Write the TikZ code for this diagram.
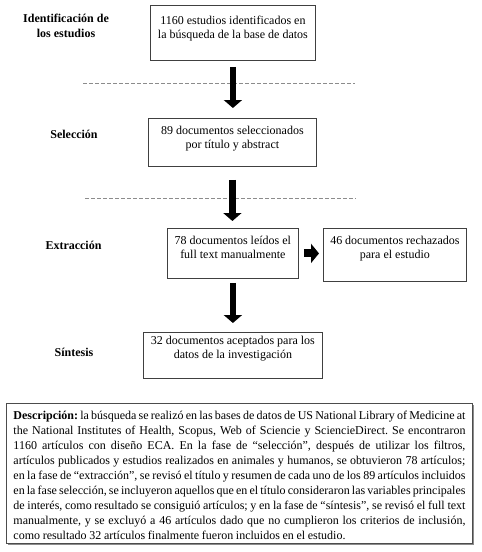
\documentclass[tikz,border=0pt]{standalone}
\usepackage{fontspec}
\setmainfont{Liberation Serif}
\usetikzlibrary{arrows.meta,shadows,calc}
\newcommand{\bxtext}[4]{\parbox[c][#2][t]{#1}{\centering\vspace*{#3}\rule{0pt}{10pt}#4}}
\begin{document}
\begin{tikzpicture}[x=1pt,y=-1pt,
  box/.style={draw=black!75, line width=0.8pt, inner sep=0pt, anchor=north west, font=\fontsize{12}{14}\selectfont},
  lab/.style={font=\bfseries\fontsize{12}{15}\selectfont, align=center},
  bigarrow/.style={line width=6.5pt, -{Triangle[width=18pt,length=8pt]}},
  sidearrow/.style={line width=8pt, -{Triangle[width=19pt,length=8pt]}},
  sepline/.style={draw=black!45, line width=0.6pt, dash pattern=on 4pt off 2pt},
  descbox/.style={draw=black!70, line width=0.9pt, fill=white, inner xsep=7pt, inner ysep=0pt, anchor=north west,
    font=\fontsize{12}{15}\selectfont,
    drop shadow={shadow xshift=1.6pt, shadow yshift=-1.6pt, fill=black!45, opacity=1}}]
\useasboundingbox (0,0) rectangle (482,552);

% labels
\node[lab] (l1) at (66,26) {Identificación de\\los estudios};
\node[lab] (l2) at (74,134) {Selección};
\node[lab] (l3) at (73.5,245) {Extracción};
\node[lab] (l4) at (74,352) {Síntesis};

% boxes
\node[box] (b1) at (150,5) {\bxtext{165pt}{55pt}{9pt}{1160 estudios identificados en\\la búsqueda de la base de datos}};
\node[box] (b2) at (148,118) {\bxtext{168pt}{48pt}{6pt}{89 documentos seleccionados\\por título y abstract}};
\node[box] (b3) at (167,228) {\bxtext{131pt}{50pt}{6pt}{78 documentos leídos el\\full text manualmente}};
\node[box] (b4) at (323,228) {\bxtext{143pt}{53pt}{6pt}{46 documentos rechazados\\para el estudio}};
\node[box] (b5) at (143,332) {\bxtext{179pt}{46pt}{2pt}{32 documentos aceptados para los\\datos de la investigación}};

% separators
\coordinate (s1a) at (83,83);
\coordinate (s1b) at (355,83);
\coordinate (s2a) at (85,198);
\coordinate (s2b) at (356,198);
\draw[sepline] (s1a) -- (s1b);
\draw[sepline] (s2a) -- (s2b);

% arrows
\draw[bigarrow, shorten <=6pt, shorten >=10pt] (b1.south) -- (b1.south |- b2.north);
\draw[bigarrow, shorten <=13pt, shorten >=7pt] (b2.south) -- (b2.south |- b3.north);
\draw[bigarrow, shorten <=4pt, shorten >=9pt] (b3.south) -- (b3.south |- b5.north);
\draw[sidearrow, shorten <=5pt, shorten >=4pt] (b3.east) -- (b3.east -| b4.west);

% description
\node[descbox] (desc) at (6,403) {\parbox[c][140pt][t]{452pt}{\frenchspacing\spaceskip=0.22em plus 0.4em minus 0.09em
\vspace*{6pt}\rule{0pt}{10pt}\textbf{Descripción:} la búsqueda se realizó en las bases de datos de US National Library of Medicine at\linebreak
the National Institutes of Health, Scopus, Web of Sciencie y SciencieDirect. Se encontraron\linebreak
1160 artículos con diseño ECA. En la fase de “selección”, después de utilizar los filtros,\linebreak
artículos publicados y estudios realizados en animales y humanos, se obtuvieron 78 artículos;\linebreak
en la fase de “extracción”, se revisó el título y resumen de cada uno de los 89 artículos incluidos\linebreak
en la fase selección, se incluyeron aquellos que en el título consideraron las variables principales\linebreak
de interés, como resultado se consiguió artículos; y en la fase de “síntesis”, se revisó el full text\linebreak
manualmente, y se excluyó a 46 artículos dado que no cumplieron los criterios de inclusión,\linebreak
como resultado 32 artículos finalmente fueron incluidos en el estudio.}};
\end{tikzpicture}
\end{document}
